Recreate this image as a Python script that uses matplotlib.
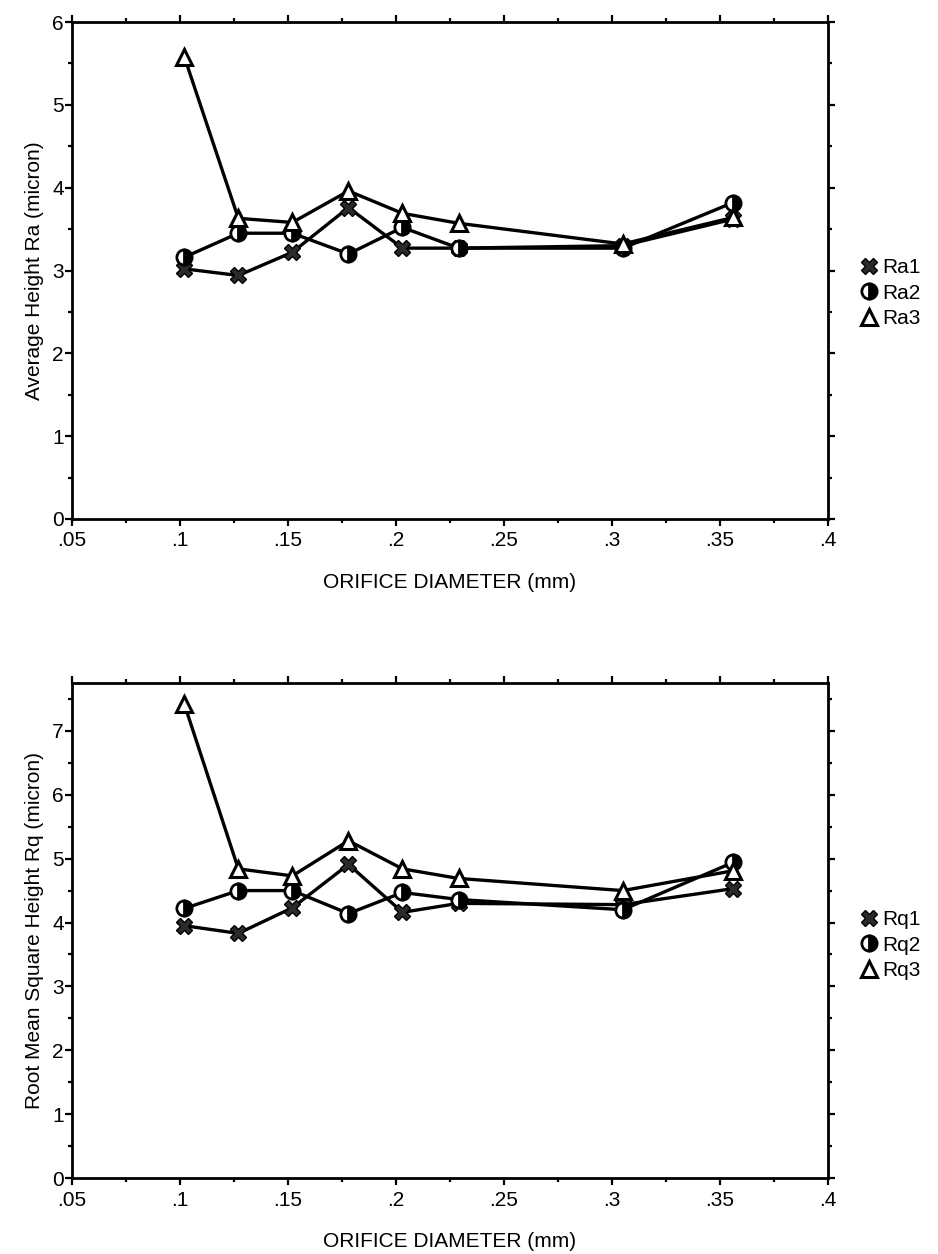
import matplotlib
matplotlib.use("Agg")
import matplotlib.pyplot as plt
from matplotlib.ticker import MultipleLocator
from matplotlib.lines import Line2D

plt.rcParams['font.family'] = ['Liberation Sans', 'DejaVu Sans']

diameter = [0.102, 0.127, 0.152, 0.178, 0.203, 0.229, 0.305, 0.356]

Ra1 = [3.02, 2.94, 3.22, 3.76, 3.27, 3.27, 3.30, 3.62]
Ra2 = [3.16, 3.45, 3.45, 3.20, 3.52, 3.27, 3.27, 3.82]
Ra3 = [5.58, 3.63, 3.58, 3.96, 3.69, 3.57, 3.32, 3.64]

Rq1 = [3.95, 3.83, 4.23, 4.91, 4.16, 4.30, 4.28, 4.53]
Rq2 = [4.22, 4.50, 4.50, 4.14, 4.47, 4.36, 4.20, 4.94]
Rq3 = [7.42, 4.84, 4.73, 5.28, 4.84, 4.69, 4.50, 4.81]

x_ticks = [0.05, 0.1, 0.15, 0.2, 0.25, 0.3, 0.35, 0.4]
x_labels = ['.05', '.1', '.15', '.2', '.25', '.3', '.35', '.4']

W, H = 938, 1254
fig = plt.figure(figsize=(W / 100, H / 100), dpi=100)

def frac(l, t, r, b):
    return [l / W, 1 - b / H, (r - l) / W, (b - t) / H]

styles = [
    dict(marker='X', markersize=12, markerfacecolor='#2a2a2a', markeredgecolor='black', markeredgewidth=1.0),
    dict(marker='o', markersize=11, fillstyle='right', markerfacecolor='black',
         markerfacecoloralt='white', markeredgecolor='black', markeredgewidth=2.0),
    dict(marker='^', markersize=12, markerfacecolor='white', markeredgecolor='black', markeredgewidth=2.2),
]

def make(rect, series, names, ylim, ylabel, legend_y):
    ax = fig.add_axes(rect)
    for ys, st in zip(series, styles):
        ax.plot(diameter, ys, color='black', linewidth=2.4, **st, zorder=3)
    ax.set_xlim(0.05, 0.4)
    ax.set_ylim(0, ylim)
    ax.set_xticks(x_ticks)
    ax.set_xticklabels(x_labels)
    ax.xaxis.set_minor_locator(MultipleLocator(0.025))
    ax.yaxis.set_major_locator(MultipleLocator(1))
    ax.yaxis.set_minor_locator(MultipleLocator(0.5))
    ax.tick_params(which='both', direction='out', top=True, right=True, width=1.6,
                   labelsize=15, pad=4)
    ax.tick_params(which='major', length=5)
    ax.tick_params(which='minor', length=3)
    ax.tick_params(axis='y', pad=1)
    for s in ax.spines.values():
        s.set_linewidth(2.0)
    ax.set_xlabel('ORIFICE DIAMETER (mm)', fontsize=15, labelpad=16)
    ax.set_ylabel(ylabel, fontsize=15, labelpad=6)
    handles = [Line2D([], [], linestyle='none', **st) for st in styles]
    fig.legend(handles, names, loc='upper left',
               bbox_to_anchor=(848 / W, 1 - legend_y / H), frameon=False,
               fontsize=15, handletextpad=0.05, labelspacing=0.3,
               handlelength=1.2, borderaxespad=0)
    return ax

make(frac(72, 22, 828, 519), [Ra1, Ra2, Ra3], ['Ra1', 'Ra2', 'Ra3'], 6,
     'Average Height Ra (micron)', 250)
make(frac(72, 683, 828, 1178), [Rq1, Rq2, Rq3], ['Rq1', 'Rq2', 'Rq3'], 7.75,
     'Root Mean Square Height Rq (micron)', 902)

fig.savefig('out.png', dpi=100)
